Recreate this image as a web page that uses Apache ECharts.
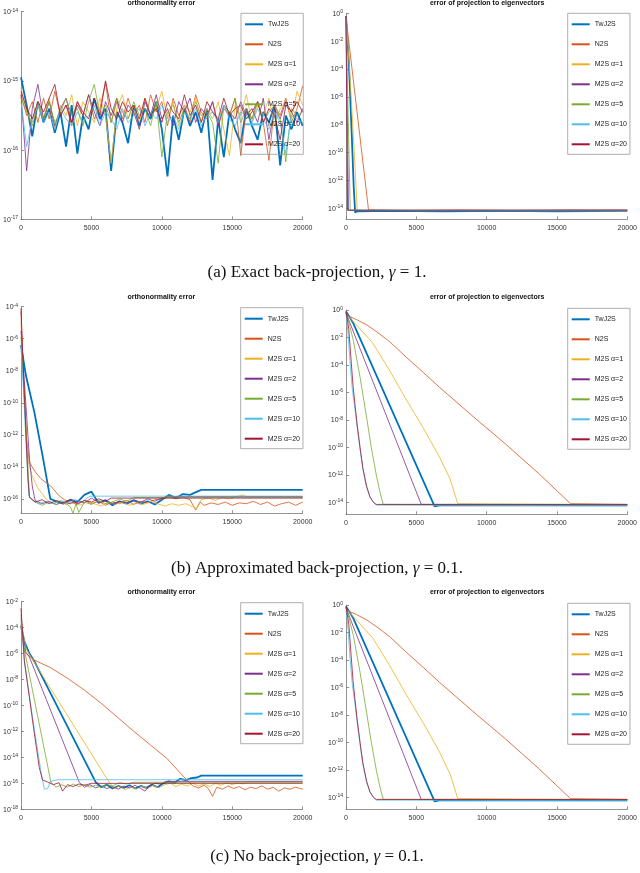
<!DOCTYPE html>
<html>
<head>
<meta charset="utf-8">
<script src="https://cdn.jsdelivr.net/npm/echarts@6/dist/echarts.min.js"></script>
<style>
html, body { margin: 0; padding: 0; background: #fff; }
#main { width: 640px; height: 873px; }
</style>
</head>
<body>
<div id="main"></div>
<script>
// values are log10 of the error (10^v)
var names = ['TwJ2S', 'N2S', 'M2S α=1', 'M2S α=2', 'M2S α=5', 'M2S α=10', 'M2S α=20'];

// (a) left: orthonormality error, sampled every 400 iterations
var iterA = [0,400,800,1200,1600,2000,2400,2800,3200,3600,4000,4400,4800,5200,5600,6000,6400,6800,7200,7600,
  8000,8400,8800,9200,9600,10000,10400,10800,11200,11600,12000,12400,12800,13200,13600,14000,14400,14800,15200,15600,
  16000,16400,16800,17200,17600,18000,18400,18800,19200,19600,20000];
var aOrthTwJ2S = [-14.95,-15.35,-15.80,-15.30,-15.60,-15.40,-15.75,-15.45,-15.95,-15.35,
  -16.05,-15.50,-15.70,-15.25,-15.55,-15.40,-16.30,-15.45,-15.60,-15.90,
  -15.35,-15.65,-15.40,-15.55,-15.30,-15.70,-16.38,-15.50,-15.85,-15.40,
  -15.65,-15.45,-15.75,-15.40,-16.43,-15.55,-16.10,-15.45,-15.70,-15.90,
  -15.40,-15.65,-15.85,-15.45,-15.60,-15.35,-16.22,-15.50,-15.70,-15.45,-15.65];
var aOrthN2S = [-15.20,-15.50,-15.30,-15.60,-15.25,-15.55,-15.15,-15.50,-15.35,-15.65,
  -15.30,-15.50,-15.20,-15.55,-15.40,-15.02,-15.60,-15.30,-15.55,-15.25,
  -15.50,-15.35,-15.60,-15.20,-15.45,-15.30,-15.65,-15.25,-15.50,-15.35,
  -15.60,-15.20,-15.45,-15.55,-15.30,-15.65,-15.40,-15.50,-15.25,-16.08,
  -15.40,-15.55,-15.30,-15.60,-16.15,-15.35,-15.50,-15.25,-15.60,-15.40,-15.07];
var aOrthA1 = [-15.10,-15.45,-15.60,-15.30,-15.55,-15.25,-15.70,-15.35,-15.50,-15.20,
  -15.65,-15.30,-15.45,-15.60,-15.25,-15.50,-16.19,-15.40,-15.20,-15.55,
  -15.35,-15.60,-15.25,-15.50,-15.40,-15.15,-15.55,-15.30,-15.65,-15.35,
  -15.45,-15.25,-15.60,-15.40,-15.55,-15.30,-15.70,-16.08,-15.35,-15.50,
  -15.20,-15.60,-15.35,-15.50,-15.25,-15.65,-15.40,-15.30,-15.55,-15.15,-15.35];
var aOrthA2 = [-15.20,-16.30,-15.40,-15.05,-15.55,-15.30,-15.65,-15.40,-15.25,-15.60,
  -15.35,-15.50,-15.20,-15.45,-15.65,-15.30,-15.50,-15.25,-15.60,-15.35,
  -15.45,-15.70,-15.30,-15.50,-15.20,-15.55,-15.40,-15.65,-15.30,-15.45,
  -15.25,-15.60,-15.40,-15.50,-15.30,-15.65,-15.35,-15.45,-15.55,-15.30,
  -15.50,-15.40,-15.60,-15.25,-15.85,-15.40,-15.55,-15.30,-15.45,-15.60,-15.40];
var aOrthA5 = [-15.25,-15.45,-15.65,-15.35,-15.55,-15.30,-15.60,-15.45,-15.25,-15.50,
  -15.40,-15.65,-15.30,-15.05,-15.50,-15.35,-15.60,-15.25,-15.45,-15.55,
  -15.30,-15.50,-15.40,-15.65,-15.30,-16.10,-15.45,-15.35,-15.60,-15.40,
  -15.55,-15.30,-15.50,-15.45,-15.60,-16.19,-15.35,-15.50,-15.25,-15.60,
  -15.40,-15.55,-15.30,-15.60,-15.45,-15.35,-15.55,-16.17,-15.40,-15.50,-15.45];
var aOrthA10 = [-15.30,-15.95,-15.55,-15.35,-15.60,-15.45,-15.70,-15.40,-15.55,-15.65,
  -15.45,-15.60,-15.50,-15.35,-15.65,-15.45,-15.55,-15.70,-15.40,-15.60,
  -15.50,-15.40,-15.65,-15.45,-15.55,-15.35,-15.60,-15.50,-15.70,-15.45,
  -15.55,-15.40,-15.65,-15.50,-15.45,-15.60,-15.35,-15.55,-15.65,-15.45,
  -15.50,-15.60,-15.40,-15.55,-15.70,-15.45,-15.60,-16.05,-15.50,-15.55,-15.60];
var aOrthA20 = [-15.15,-15.40,-15.55,-15.30,-15.45,-15.25,-15.05,-15.50,-15.35,-15.60,
  -15.30,-15.45,-15.55,-15.25,-15.50,-15.00,-15.40,-15.55,-15.30,-15.45,
  -15.35,-15.55,-15.25,-15.50,-15.40,-15.60,-15.30,-15.45,-15.55,-15.20,
  -15.50,-15.35,-15.60,-15.30,-15.45,-15.55,-15.25,-15.50,-15.40,-15.35,
  -15.55,-15.45,-15.30,-15.60,-15.40,-15.50,-15.85,-15.35,-15.45,-15.30,-15.45];

// (a) right: error of projection, [iteration, log10 error]
var aProjTwJ2S = [[0,-0.2],[200,-3.5],[400,-8.5],[550,-12.5],[650,-14.3],[800,-14.22],[3000,-14.2],[7000,-14.23],[11000,-14.2],[15000,-14.22],[20000,-14.2]];
var aProjN2S = [[0,-0.3],[1600,-14.12],[4000,-14.15],[8000,-14.12],[12000,-14.15],[16000,-14.13],[20000,-14.14]];
var aProjA1 = [[0,-0.2],[300,-4.8],[600,-10.2],[800,-14.15],[5000,-14.18],[10000,-14.16],[20000,-14.18]];
var aProjA2 = [[0,-0.2],[180,-14.15],[6000,-14.17],[20000,-14.15]];
var aProjA5 = [[0,-0.3],[300,-14.15],[9000,-14.17],[20000,-14.16]];
var aProjA10 = [[0,-0.3],[130,-14.15],[12000,-14.19],[20000,-14.18]];
var aProjA20 = [[0,-0.2],[110,-14.15],[20000,-14.14]];

// (b) left: orthonormality error
var bOrthTwJ2S = [[0,-6.4],[350,-8.3],[950,-10.6],[1530,-13.3],[2080,-16.0],[2500,-16.15],[3000,-16.3],[3500,-16.05],[4000,-16.2],
  [4500,-15.75],[5000,-15.55],[5500,-16.25],[6000,-16.1],[6500,-16.4],[7000,-16.15],[7500,-16.3],[8000,-16.1],[8500,-16.3],
  [9000,-16.15],[9500,-16.35],[10000,-16.05],[10500,-15.75],[11000,-15.95],[11500,-15.7],[12000,-15.75],[12500,-15.55],[12800,-15.44],[20000,-15.44]];
var bOrthN2S = [[0,-4.3],[200,-9.0],[400,-12.3],[590,-13.7],[1000,-14.3],[1420,-14.75],[2120,-15.2],[2700,-15.8],[3070,-16.05],
  [3500,-16.2],[4000,-16.35],[4500,-16.1],[5000,-16.3],[5500,-16.15],[6000,-16.4],[6500,-16.2],[7000,-16.3],[7500,-16.1],
  [8000,-16.35],[8500,-16.15],[9000,-16.25],[9500,-16.05],[10000,-16.0],[10500,-15.9],[11000,-16.0],[11500,-15.9],[12000,-16.05],
  [12400,-16.7],[12700,-16.2],[13000,-16.4],[13500,-16.25],[14000,-16.35],[14500,-16.2],[15000,-16.4],[15500,-16.25],[16000,-16.3],
  [16500,-16.15],[17000,-16.35],[17500,-16.2],[18000,-16.45],[18500,-16.3],[19000,-16.2],[19500,-16.4],[20000,-16.2]];
var bOrthA1 = [[0,-5.0],[200,-9.0],[470,-13.5],[800,-14.6],[1180,-15.3],[1770,-16.0],[2200,-16.3],[2700,-16.15],[3200,-16.35],
  [3700,-16.2],[4200,-16.4],[4700,-16.15],[5200,-16.3],[5700,-16.45],[6200,-16.2],[6700,-16.35],[7200,-16.2],[7700,-16.4],
  [8200,-16.25],[8700,-16.35],[9200,-16.15],[9700,-16.3],[10200,-16.45],[10700,-16.3],[11200,-16.4],[11700,-16.3],[12200,-16.5],
  [12500,-16.6],[12800,-16.05],[13300,-15.95],[13800,-16.1],[14300,-15.9],[14800,-16.0],[15300,-15.85],[15800,-15.75],[16000,-15.88],[20000,-15.88]];
var bOrthA2 = [[0,-5.5],[300,-9.5],[600,-13.5],[800,-15.2],[1000,-16.1],[1500,-16.3],[2000,-16.15],[2500,-16.35],[3000,-16.2],
  [3500,-16.3],[4000,-16.1],[4500,-16.25],[5000,-15.95],[5500,-16.2],[6000,-16.05],[6500,-16.3],[7000,-16.15],[7500,-16.25],
  [8000,-16.05],[8500,-16.2],[9000,-16.0],[9500,-16.15],[10000,-15.95],[10400,-15.85],[20000,-15.85]];
var bOrthA5 = [[0,-5.9],[200,-9.0],[400,-12.5],[600,-15.9],[1000,-16.2],[1500,-16.4],[2000,-16.2],[2500,-16.35],[3000,-16.15],
  [3500,-16.5],[3700,-16.9],[3900,-16.3],[4100,-16.85],[4500,-16.2],[5000,-16.35],[5500,-16.1],[6000,-16.3],[6500,-16.2],
  [7000,-16.0],[7500,-16.15],[8000,-15.92],[20000,-15.92]];
var bOrthA10 = [[0,-6.5],[150,-8.8],[300,-11.5],[450,-14.0],[550,-15.8],[900,-16.1],[1300,-16.3],[1800,-16.15],[2300,-16.3],
  [2800,-16.1],[3300,-16.25],[3800,-16.05],[4300,-16.2],[4900,-15.83],[20000,-15.83]];
var bOrthA20 = [[0,-4.1],[100,-6.5],[200,-8.7],[300,-10.8],[400,-13.0],[500,-14.8],[600,-15.9],[1000,-16.2],[1500,-16.05],
  [2000,-16.3],[2500,-16.1],[3000,-16.25],[3500,-16.05],[4000,-16.3],[4500,-16.1],[5000,-16.2],[5500,-16.0],[6000,-16.15],
  [6400,-15.95],[20000,-15.95]];

// (b) and (c) right: error of projection (the two panels read the same)
var bProjTwJ2S = [[0,-0.1],[520,-0.97],[6300,-14.3],[6700,-14.2],[12000,-14.22],[20000,-14.22]];
var bProjN2S = [[0,-0.36],[750,-0.7],[1500,-1.1],[2200,-1.6],[3100,-2.3],[4300,-3.45],[5500,-4.55],[6650,-5.63],[9000,-7.72],
  [11350,-9.76],[13700,-11.9],[15970,-14.1],[20000,-14.15]];
var bProjA1 = [[0,-0.3],[750,-1.1],[1900,-2.4],[3100,-4.4],[4300,-6.55],[5500,-8.6],[6650,-10.7],[7400,-12.3],[7950,-14.1],[20000,-14.18]];
var bProjA2 = [[0,-0.2],[300,-1.0],[5350,-14.15],[20000,-14.17]];
var bProjA5 = [[0,-0.2],[250,-1.1],[520,-2.2],[1000,-4.9],[1460,-7.8],[1800,-10.0],[2170,-12.1],[2450,-13.4],[2650,-14.15],[20000,-14.16]];
var bProjA10 = [[0,-0.2],[150,-1.8],[300,-4.0],[450,-5.8],[640,-7.2],[800,-8.6],[990,-10.1],[1200,-11.6],[1460,-12.9],
  [1700,-13.6],[1950,-14.0],[2150,-14.2],[20000,-14.25]];
var bProjA20 = [[0,-0.1],[200,-1.4],[350,-3.5],[500,-5.5],[640,-6.9],[800,-8.4],[1000,-10.0],[1200,-11.5],[1460,-12.8],
  [1700,-13.6],[1950,-14.0],[2150,-14.15],[20000,-14.15]];

// (c) left: orthonormality error
var cOrthTwJ2S = [[0,-3.9],[250,-5.1],[600,-6.0],[950,-6.6],[5300,-15.9],[5700,-16.3],[6100,-16.1],[6500,-16.4],[6900,-16.2],
  [7300,-16.35],[7700,-16.15],[8100,-16.4],[8500,-16.2],[8900,-16.35],[9300,-16.1],[9700,-16.3],[10100,-16.0],[10500,-15.85],
  [10900,-15.95],[11300,-15.65],[11700,-15.75],[12100,-15.6],[12500,-15.55],[12800,-15.4],[20000,-15.4]];
var cOrthN2S = [[0,-3.0],[240,-5.85],[470,-6.1],[950,-6.5],[2120,-7.1],[3300,-7.9],[4480,-8.8],[5660,-9.8],[6840,-10.9],
  [8020,-12.0],[9200,-13.05],[10380,-14.1],[11560,-15.5],[11800,-15.75],[12200,-16.2],[12600,-16.35],[13000,-16.15],[13300,-16.4],
  [13600,-17.0],[13900,-16.3],[14300,-16.45],[14700,-16.2],[15100,-16.4],[15500,-16.25],[15900,-16.5],[16300,-16.3],[16700,-16.4],
  [17100,-16.2],[17500,-16.45],[17900,-16.3],[18300,-16.6],[18700,-16.35],[19100,-16.45],[19500,-16.3],[20000,-16.45]];
var cOrthA1 = [[0,-3.5],[350,-5.6],[700,-6.25],[6250,-15.9],[6600,-16.4],[7000,-16.2],[7400,-16.5],[7800,-16.25],[8200,-16.45],
  [8600,-16.2],[9000,-16.4],[9400,-16.15],[9800,-16.35],[10200,-16.1],[10600,-16.0],[11000,-16.25],[11400,-16.05],[11800,-16.2],
  [12200,-16.0],[12600,-16.2],[13000,-16.05],[13400,-16.25],[13800,-16.0],[14200,-16.15],[14600,-15.95],[15000,-16.1],
  [15400,-15.95],[15800,-16.05],[16100,-15.87],[20000,-15.87]];
var cOrthA2 = [[0,-3.8],[350,-5.9],[590,-6.25],[4130,-15.9],[4500,-16.3],[4900,-16.1],[5300,-16.35],[5700,-16.2],[6100,-16.4],
  [6500,-16.25],[6900,-16.45],[7300,-16.2],[7700,-16.35],[8100,-16.15],[8500,-16.4],[8800,-16.6],[9100,-16.2],[9500,-16.0],
  [9900,-16.05],[10300,-15.85],[20000,-15.85]];
var cOrthA5 = [[0,-3.7],[240,-5.7],[2120,-15.9],[2500,-16.3],[2900,-16.1],[3300,-16.3],[3700,-16.05],[4100,-16.25],[4500,-16.1],
  [4900,-16.3],[5300,-16.15],[5700,-16.3],[6100,-16.1],[6500,-16.2],[7000,-15.95],[7500,-16.05],[8000,-15.92],[20000,-15.92]];
var cOrthA10 = [[0,-3.3],[240,-6.6],[940,-11.8],[1420,-15.1],[1650,-16.45],[1900,-16.4],[2100,-15.85],[2600,-15.72],[20000,-15.72]];
var cOrthA20 = [[0,-2.5],[240,-6.6],[940,-12.1],[1300,-14.8],[1530,-15.75],[1900,-15.9],[2300,-16.1],[2700,-15.95],[2950,-16.6],
  [3300,-16.1],[3700,-16.25],[4100,-16.05],[4500,-16.15],[5000,-16.0],[20000,-16.0]];

var ticksOrthA = [-14, -15, -16, -17];
var ticksOrthB = [-4, -6, -8, -10, -12, -14, -16];
var ticksOrthC = [-2, -4, -6, -8, -10, -12, -14, -16, -18];
var ticksProj = [0, -2, -4, -6, -8, -10, -12, -14];

var captions = [
    '(a) Exact back-projection, {i|γ} = 1.',
    '(b) Approximated back-projection, {i|γ} = 0.1.',
    '(c) No back-projection, {i|γ} = 0.1.'
];

function zip(xs, ys) {
    var out = [];
    for (var i = 0; i < xs.length; i++) out.push([xs[i], ys[i]]);
    return out;
}

var colors = ['#0072BD', '#D95319', '#EDB120', '#7E2F8E', '#77AC30', '#4DBEEE', '#A2142F'];
var font = '"Liberation Sans", Arial, sans-serif';

var panels = [
    { left: 20, top: 11.7, width: 282.7, height: 207.6, ymin: -17, ymax: -14, ticks: ticksOrthA, title: 'orthonormality error', titleY: 3,
      legend: [241, 13.3],
      data: [zip(iterA, aOrthTwJ2S), zip(iterA, aOrthN2S), zip(iterA, aOrthA1), zip(iterA, aOrthA2), zip(iterA, aOrthA5), zip(iterA, aOrthA10), zip(iterA, aOrthA20)] },
    { left: 346, top: 13.3, width: 282.3, height: 206, ymin: -14.8, ymax: 0, ticks: ticksProj, title: 'error of projection to eigenvectors', titleY: 3,
      legend: [567.7, 13.3],
      data: [aProjTwJ2S, aProjN2S, aProjA1, aProjA2, aProjA5, aProjA10, aProjA20] },
    { left: 20, top: 306.7, width: 282.7, height: 206.6, ymin: -16.9, ymax: -4, ticks: ticksOrthB, title: 'orthonormality error', titleY: 297,
      legend: [240.7, 307.7],
      data: [bOrthTwJ2S, bOrthN2S, bOrthA1, bOrthA2, bOrthA5, bOrthA10, bOrthA20] },
    { left: 346, top: 310, width: 282.3, height: 204.3, ymin: -14.87, ymax: 0, ticks: ticksProj, title: 'error of projection to eigenvectors', titleY: 297.3,
      legend: [567.7, 308.3],
      data: [bProjTwJ2S, bProjN2S, bProjA1, bProjA2, bProjA5, bProjA10, bProjA20] },
    { left: 20, top: 601.7, width: 282.7, height: 207.6, ymin: -18, ymax: -2, ticks: ticksOrthC, title: 'orthonormality error', titleY: 592.3,
      legend: [240.7, 602.7],
      data: [cOrthTwJ2S, cOrthN2S, cOrthA1, cOrthA2, cOrthA5, cOrthA10, cOrthA20] },
    { left: 346, top: 605, width: 282.3, height: 204.3, ymin: -14.87, ymax: 0, ticks: ticksProj, title: 'error of projection to eigenvectors', titleY: 592.3,
      legend: [567.7, 603.3],
      data: [bProjTwJ2S, bProjN2S, bProjA1, bProjA2, bProjA5, bProjA10, bProjA20] }
];

var grid = [], xAxis = [], yAxis = [], series = [], legend = [], graphic = [];

panels.forEach(function (p, k) {
    grid.push({ left: p.left, top: p.top, width: p.width, height: p.height, containLabel: false });
    xAxis.push({
        type: 'value', gridIndex: k, min: 0, max: 20000, interval: 5000,
        axisLine: { onZero: false, lineStyle: { color: '#777', width: 0.8 } },
        axisTick: { inside: true, length: 3, lineStyle: { color: '#777', width: 0.8 } },
        axisLabel: {
            fontSize: 7, color: '#333', margin: 5, fontFamily: font, showMinLabel: true, showMaxLabel: true,
            formatter: function (v) { return String(v); }
        },
        splitLine: { show: false }
    });
    yAxis.push({
        type: 'value', gridIndex: k, min: p.ymin, max: p.ymax,
        axisLine: { onZero: false, lineStyle: { color: '#777', width: 0.8 } },
        axisTick: { inside: true, length: 3, customValues: p.ticks, lineStyle: { color: '#777', width: 0.8 } },
        axisLabel: {
            customValues: p.ticks, margin: 3, color: '#333', fontFamily: font,
            formatter: function (v) { return '{b|10}{s|' + Math.round(v) + '}'; },
            rich: {
                b: { fontSize: 7, lineHeight: 8, verticalAlign: 'bottom', fontFamily: font, color: '#333' },
                s: { fontSize: 5, lineHeight: 6, verticalAlign: 'top', padding: [0, 0, 4, 0], fontFamily: font, color: '#333' }
            }
        },
        splitLine: { show: false }
    });
    p.data.forEach(function (d, i) {
        series.push({
            type: 'line', name: names[i], xAxisIndex: k, yAxisIndex: k, data: d,
            symbol: 'none', silent: true, clip: true,
            lineStyle: { color: colors[i], width: i === 0 ? 1.8 : 0.8 },
            itemStyle: { color: colors[i] }
        });
    });
    legend.push({
        data: names, orient: 'vertical', left: p.legend[0], top: p.legend[1],
        itemWidth: 18, itemHeight: 8, itemGap: 12, padding: [7, 3, 6, 3],
        borderColor: '#999', borderWidth: 0.8, backgroundColor: 'transparent',
        selectedMode: false,
        itemStyle: { opacity: 0, borderWidth: 0 },
        textStyle: { fontSize: 7, lineHeight: 8, color: '#222', fontFamily: font }
    });
    graphic.push({
        type: 'text', x: p.left + p.width / 2, y: p.titleY,
        style: { text: p.title, font: 'bold 7px ' + font, fill: '#111', align: 'center', verticalAlign: 'middle' }
    });
});

var capY = [273, 569, 857];
captions.forEach(function (c, j) {
    graphic.push({
        type: 'text', x: 317, y: capY[j],
        style: {
            text: c, fill: '#111', align: 'center', verticalAlign: 'middle',
            fontFamily: '"Liberation Serif", "Times New Roman", serif', fontSize: 17,
            rich: { i: { fontStyle: 'italic', fontFamily: '"Liberation Serif", serif', fontSize: 17 } }
        }
    });
});

var myChart = echarts.init(document.getElementById('main'));
myChart.setOption({
    animation: false,
    backgroundColor: '#fff',
    grid: grid,
    xAxis: xAxis,
    yAxis: yAxis,
    legend: legend,
    graphic: graphic,
    series: series
});
</script>
</body>
</html>
